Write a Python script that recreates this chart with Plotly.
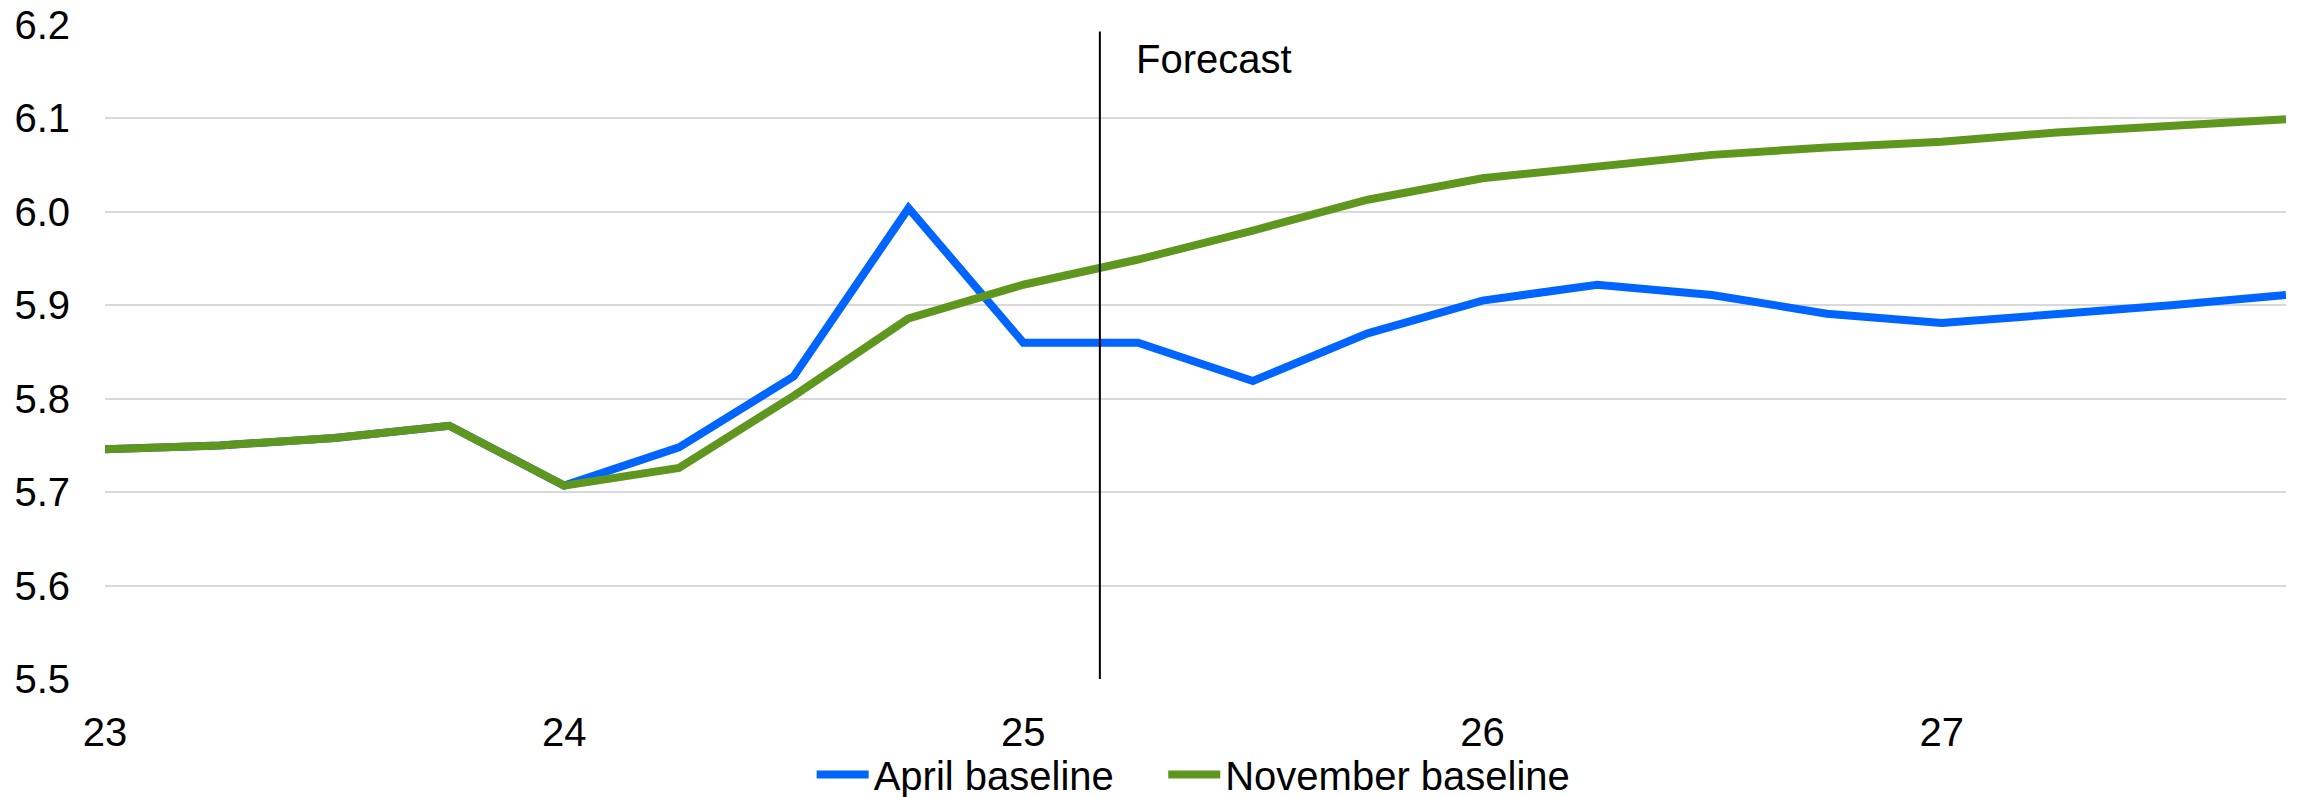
import plotly.graph_objects as go

quarters = [23.0, 23.25, 23.5, 23.75, 24.0, 24.25, 24.5, 24.75, 25.0, 25.25,
            25.5, 25.75, 26.0, 26.25, 26.5, 26.75, 27.0, 27.25, 27.5, 27.75]
april = [5.746, 5.750, 5.758, 5.771, 5.707, 5.748, 5.824, 6.004, 5.860, 5.860,
         5.819, 5.870, 5.905, 5.922, 5.911, 5.891, 5.881, 5.890, 5.900, 5.911]
november = [5.746, 5.750, 5.758, 5.771, 5.707, 5.726, 5.803, 5.886, 5.922, 5.949,
            5.980, 6.013, 6.036, 6.049, 6.061, 6.069, 6.075, 6.085, 6.091, 6.099]
series_names = ["April baseline", "November baseline"]
x_ticks = [23, 24, 25, 26, 27]
y_ticks = [5.5, 5.6, 5.7, 5.8, 5.9, 6.0, 6.1, 6.2]
forecast_x = 25.1667
forecast_label = "Forecast"

FONT = "Arial, 'Liberation Sans', sans-serif"
BLUE = "#0064FF"
GREEN = "#5E961E"
FS = 40
PAD = "\u00a0" * 4  # spacing between legend entries

fig = go.Figure()
fig.add_trace(go.Scatter(x=quarters, y=april, mode="lines", name=series_names[0] + PAD,
                         line=dict(color=BLUE, width=8)))
fig.add_trace(go.Scatter(x=quarters, y=november, mode="lines", name=series_names[1],
                         line=dict(color=GREEN, width=8)))

fig.add_shape(type="line", xref="x", yref="y", x0=forecast_x, x1=forecast_x,
              y0=5.5, y1=6.193, line=dict(color="black", width=2))
fig.add_annotation(x=forecast_x, y=6.2, xref="x", yref="y", text=forecast_label,
                   showarrow=False, xanchor="left", yanchor="top", xshift=34, yshift=-10,
                   font=dict(family=FONT, size=FS, color="black"))

fig.update_layout(
    width=2298, height=797,
    margin=dict(l=105, r=12, t=25, b=118, autoexpand=False),
    paper_bgcolor="white", plot_bgcolor="white",
    font=dict(family=FONT, size=FS, color="black"),
    showlegend=True,
    legend=dict(orientation="h", x=0.324, xanchor="left",
                y=-0.146, yanchor="middle",
                font=dict(family=FONT, size=FS, color="black"),
                itemwidth=52, tracegroupgap=0, bgcolor="rgba(0,0,0,0)"),
)
fig.update_xaxes(range=[23, 27.75], tickvals=x_ticks, ticktext=[str(t) for t in x_ticks],
                 showgrid=False, zeroline=False, showline=False, ticks="", automargin=False,
                 ticklabeloverflow="allow",
                 ticklabelstandoff=26, tickfont=dict(family=FONT, size=FS, color="black"))
fig.update_yaxes(range=[5.5, 6.2], tickvals=y_ticks, ticktext=[f"{v:.1f}" for v in y_ticks],
                 showgrid=True, gridcolor="#D9D9D9", gridwidth=1.5, zeroline=False,
                 showline=False, ticks="", automargin=False, ticklabelstandoff=34,
                 ticklabeloverflow="allow",
                 tickfont=dict(family=FONT, size=FS, color="black"))

fig.write_html("out.html", config={"displayModeBar": False},
               post_script="document.body.style.margin='0';")
